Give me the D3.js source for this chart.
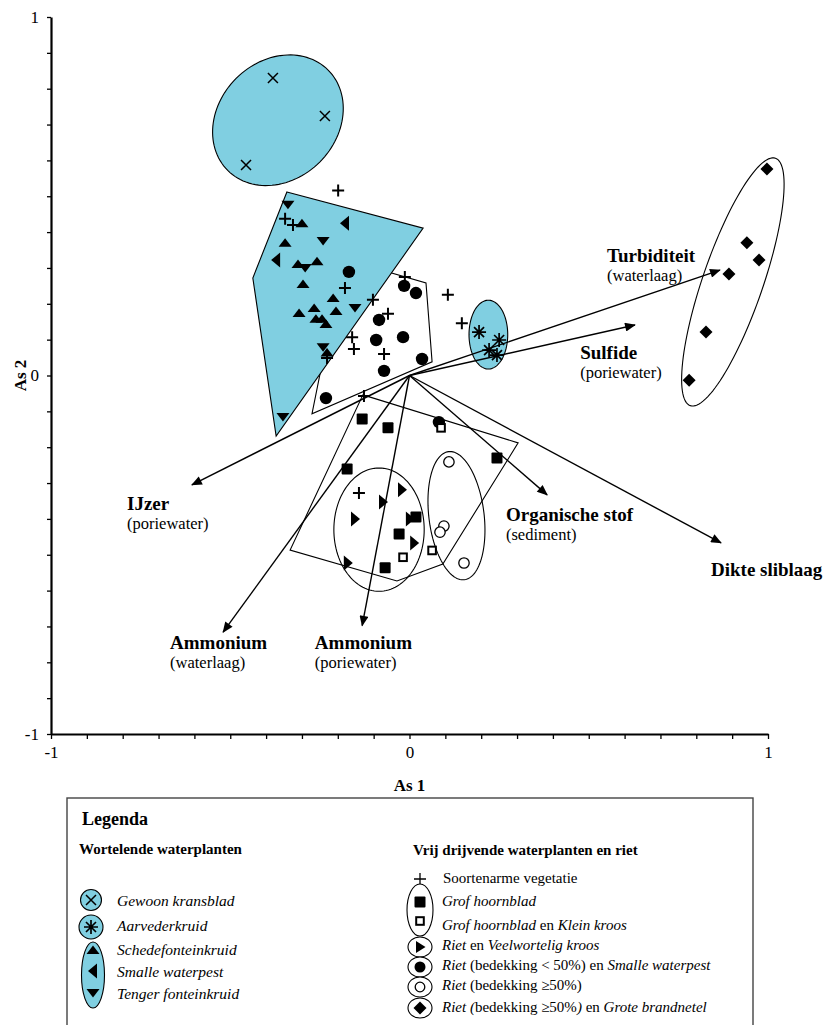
<!DOCTYPE html>
<html>
<head>
<meta charset="utf-8">
<script src="https://cdn.jsdelivr.net/npm/d3@7"></script>
<style>
  html, body { margin: 0; padding: 0; background: #fff; }
  svg { display: block; font-family: "Liberation Serif", "Times New Roman", serif; }
</style>
</head>
<body>
<svg id="chart" width="831" height="1025"></svg>
<script>
// ---- Sample scores on the first two ordination axes [As 1, As 2] ----
const gewoonKransblad = [[-0.381, 0.830], [-0.236, 0.724], [-0.456, 0.587]];
const aarvederkruid = [[0.194, 0.121], [0.250, 0.099], [0.222, 0.071], [0.244, 0.057]];
const schedefonteinkruid = [
  [-0.300, 0.425], [-0.347, 0.370], [-0.311, 0.311], [-0.258, 0.319], [-0.297, 0.255],
  [-0.213, 0.216], [-0.266, 0.188], [-0.205, 0.180], [-0.308, 0.174], [-0.261, 0.158],
  [-0.244, 0.158], [-0.233, 0.144], [-0.230, 0.064]
];
const smalleWaterpest = [[-0.180, 0.425], [-0.372, 0.322]];
const tengerFonteinkruid = [
  [-0.339, 0.476], [-0.241, 0.375], [-0.291, 0.300], [-0.152, 0.188], [-0.241, 0.079], [-0.353, -0.116]
];
const soortenarm = [
  [-0.199, 0.516], [-0.347, 0.437], [-0.325, 0.420], [-0.180, 0.244], [-0.102, 0.211],
  [-0.013, 0.275], [0.107, 0.225], [0.146, 0.146], [-0.060, 0.172], [-0.160, 0.107],
  [-0.155, 0.074], [-0.071, 0.060], [-0.230, 0.049], [-0.127, -0.057], [-0.141, -0.328]
];
const rietSmalleWaterpest = [
  [-0.169, 0.289], [-0.015, 0.250], [0.018, 0.230], [-0.085, 0.155], [-0.093, 0.099],
  [-0.018, 0.107], [0.035, 0.046], [-0.071, 0.013], [-0.233, -0.063], [0.082, -0.130]
];
const grofHoornblad = [
  [-0.132, -0.121], [-0.060, -0.146], [0.244, -0.230], [-0.174, -0.261],
  [0.018, -0.395], [-0.029, -0.442], [-0.068, -0.536]
];
const grofHoornbladKleinKroos = [[0.088, -0.146], [-0.018, -0.507], [0.063, -0.488]];
const rietVeelwortelig = [
  [-0.021, -0.319], [-0.074, -0.353], [-0.152, -0.400], [0.001, -0.400], [0.013, -0.467], [-0.172, -0.523]
];
const rietDicht = [[0.110, -0.241], [0.096, -0.420], [0.085, -0.437], [0.152, -0.523]];
const rietBrandnetel = [
  [0.997, 0.576], [0.941, 0.370], [0.975, 0.322], [0.891, 0.283], [0.827, 0.121], [0.780, -0.013]
];

// ---- Environmental variables (arrow tips) ----
const variableNames = ["Turbiditeit", "Sulfide", "IJzer", "Ammonium", "Ammonium", "Organische stof", "Dikte sliblaag"];
const variableSources = ["(waterlaag)", "(poriewater)", "(poriewater)", "(waterlaag)", "(poriewater)", "(sediment)", ""];
const variableTips = [
  [0.866, 0.294], [0.629, 0.141], [-0.607, -0.305], [-0.520, -0.716],
  [-0.132, -0.698], [0.384, -0.333], [0.869, -0.467]
];

// ---- Group outlines (hulls and ellipses) ----
const hullRooted = [[-0.342, 0.512], [0.038, 0.411], [-0.372, -0.169], [-0.437, 0.272]];
const hullRietSmalle = [[-0.185, 0.325], [0.046, 0.258], [0.063, 0.038], [-0.272, -0.107]];
const hullHoornblad = [[-0.130, -0.054], [0.303, -0.188], [0.093, -0.526], [-0.035, -0.573], [-0.333, -0.487]];
// ellipses: centre x, centre y, semi-axis a, semi-axis b, angle of a (degrees)
const ellipseKransblad = [-0.367, 0.712, 0.198, 0.165, 45];
const ellipseAarveder = [0.220, 0.114, 0.054, 0.096, 0];
const ellipseBrandnetel = [0.902, 0.261, 0.365, 0.084, 71];
const ellipseVeelwortelig = [-0.085, -0.430, 0.126, 0.172, 0];
const ellipseRietDicht = [0.131, -0.391, 0.180, 0.077, 97];

// ---- Axis ticks ----
const axisTicks = d3.range(-10, 11).map(i => i / 10);
const axisTickLabels = ["-1", "0", "1"];

const BLUE = "#80cfe1";
const svg = d3.select("#chart");

const x = d3.scaleLinear().domain([-1, 1]).range([51, 768]);
const y = d3.scaleLinear().domain([-1, 1]).range([734, 17]);

// ---------------- Axes ----------------
const labelFor = v => {
  const r = Math.round(v);
  return Math.abs(v - r) < 1e-9 ? axisTickLabels[r + 1] : "";
};
const xAxis = svg.append("g")
  .attr("transform", `translate(0,${y(-1)})`)
  .call(d3.axisBottom(x).tickValues(axisTicks).tickFormat(labelFor).tickSize(5).tickSizeOuter(0).tickPadding(7));
const yAxis = svg.append("g")
  .attr("transform", `translate(${x(-1)},0)`)
  .call(d3.axisLeft(y).tickValues(axisTicks).tickFormat(labelFor).tickSize(4).tickSizeOuter(0).tickPadding(8));
[xAxis, yAxis].forEach(a => {
  a.attr("font-family", null);
  a.select(".domain").attr("stroke", "#000").attr("stroke-width", 2.2);
  a.selectAll(".tick line").attr("stroke", "#000").attr("stroke-width", 1.3);
  a.selectAll(".tick text").attr("font-size", 17).attr("fill", "#000");
});

svg.append("text").attr("x", x(0)).attr("y", 791).attr("text-anchor", "middle")
  .attr("font-weight", "bold").attr("font-size", 17).text("As 1");
svg.append("text").attr("transform", `translate(26,${y(0)}) rotate(-90)`).attr("text-anchor", "middle")
  .attr("font-weight", "bold").attr("font-size", 17).text("As 2");

// ---------------- Outlines ----------------
const line = d3.line().x(d => x(d[0])).y(d => y(d[1])).curve(d3.curveLinearClosed);
function ellipsePoints(e) {
  const [cx, cy, a, b, ang] = e;
  const t = ang * Math.PI / 180;
  return d3.range(0, 120).map(i => {
    const u = i / 120 * 2 * Math.PI;
    const px = a * Math.cos(u), py = b * Math.sin(u);
    return [cx + px * Math.cos(t) - py * Math.sin(t), cy + px * Math.sin(t) + py * Math.cos(t)];
  });
}
const outlines = svg.append("g").attr("stroke", "#000").attr("stroke-width", 1.1);
outlines.append("path").attr("d", line(hullRietSmalle)).attr("fill", "#fff");
outlines.append("path").attr("d", line(hullRooted)).attr("fill", BLUE);
outlines.append("path").attr("d", line(ellipsePoints(ellipseKransblad))).attr("fill", BLUE);
outlines.append("path").attr("d", line(ellipsePoints(ellipseAarveder))).attr("fill", BLUE);
outlines.append("path").attr("d", line(hullHoornblad)).attr("fill", "none");
outlines.append("path").attr("d", line(ellipsePoints(ellipseBrandnetel))).attr("fill", "none");
outlines.append("path").attr("d", line(ellipsePoints(ellipseVeelwortelig))).attr("fill", "none");
outlines.append("path").attr("d", line(ellipsePoints(ellipseRietDicht))).attr("fill", "none");

// ---------------- Arrows ----------------
svg.append("defs").append("marker")
  .attr("id", "head").attr("viewBox", "0 0 12 10").attr("refX", 11).attr("refY", 5)
  .attr("markerWidth", 12).attr("markerHeight", 9).attr("markerUnits", "userSpaceOnUse")
  .attr("orient", "auto")
  .append("path").attr("d", "M0,0L12,5L0,10Z").attr("fill", "#000");

svg.append("g").selectAll("line").data(variableTips).join("line")
  .attr("x1", x(0)).attr("y1", y(0))
  .attr("x2", d => x(d[0])).attr("y2", d => y(d[1]))
  .attr("stroke", "#000").attr("stroke-width", 1.4).attr("marker-end", "url(#head)");

// label anchors for the arrows (start of the bold name, in axis units)
const arrowLabelAnchors = [
  [0.551, 0.316], [0.476, 0.045], [-0.788, -0.376], [-0.668, -0.764],
  [-0.264, -0.764], [0.269, -0.407], [0.841, -0.559]
];
const lbl = svg.append("g");
variableNames.forEach((name, i) => {
  const [ax, ay] = arrowLabelAnchors[i];
  lbl.append("text").attr("x", x(ax)).attr("y", y(ay))
    .attr("font-weight", "bold").attr("font-size", 19).text(name);
  if (variableSources[i]) {
    lbl.append("text").attr("x", x(ax)).attr("y", y(ay) + 19)
      .attr("font-size", 16.5).text(variableSources[i]);
  }
});

// ---------------- Markers ----------------
function drawMarker(g, type) {
  const k = "#000";
  switch (type) {
    case "x":
      g.append("path").attr("d", "M-5,-5L5,5M-5,5L5,-5").attr("stroke", k).attr("stroke-width", 1.5).attr("fill", "none"); break;
    case "star":
      g.append("path").attr("d", "M0,-7V7M-7,0H7M-5,-5L5,5M-5,5L5,-5").attr("stroke", k).attr("stroke-width", 1.7).attr("fill", "none"); break;
    case "plus":
      g.append("path").attr("d", "M-6,0H6M0,-6V6").attr("stroke", k).attr("stroke-width", 2).attr("fill", "none"); break;
    case "up":
      g.append("path").attr("d", "M0,-4.5L6.5,4L-6.5,4Z").attr("fill", k); break;
    case "down":
      g.append("path").attr("d", "M0,4.5L6.5,-4L-6.5,-4Z").attr("fill", k); break;
    case "left":
      g.append("path").attr("d", "M-5,0L4,-7.5L4,7.5Z").attr("fill", k); break;
    case "right":
      g.append("path").attr("d", "M5,0L-4,-7.5L-4,7.5Z").attr("fill", k); break;
    case "dot":
      g.append("circle").attr("r", 6.2).attr("fill", k); break;
    case "ring":
      g.append("circle").attr("r", 5.2).attr("fill", "#fff").attr("stroke", k).attr("stroke-width", 1.3); break;
    case "square":
      g.append("rect").attr("x", -5.5).attr("y", -5.5).attr("width", 11).attr("height", 11).attr("rx", 1).attr("fill", k); break;
    case "opensquare":
      g.append("rect").attr("x", -3.8).attr("y", -3.8).attr("width", 7.6).attr("height", 7.6).attr("fill", "#fff").attr("stroke", k).attr("stroke-width", 2); break;
    case "diamond":
      g.append("path").attr("d", "M0,-6.5L6.5,0L0,6.5L-6.5,0Z").attr("fill", k); break;
  }
}

const groups = [
  [gewoonKransblad, "x"], [aarvederkruid, "star"],
  [rietSmalleWaterpest, "dot"], [soortenarm, "plus"],
  [schedefonteinkruid, "up"], [smalleWaterpest, "left"], [tengerFonteinkruid, "down"],
  [grofHoornblad, "square"], [grofHoornbladKleinKroos, "opensquare"],
  [rietVeelwortelig, "right"], [rietDicht, "ring"], [rietBrandnetel, "diamond"]
];
const pts = svg.append("g");
groups.forEach(([data, type]) => {
  data.forEach(d => {
    drawMarker(pts.append("g").attr("transform", `translate(${x(d[0])},${y(d[1])})`), type);
  });
});

// ---------------- Legend ----------------
const lg = svg.append("g");
lg.append("rect").attr("x", 67).attr("y", 798).attr("width", 686).attr("height", 260)
  .attr("fill", "none").attr("stroke", "#444").attr("stroke-width", 1.4);
lg.append("text").attr("x", 82).attr("y", 825).attr("font-weight", "bold").attr("font-size", 18).text("Legenda");
lg.append("text").attr("x", 79).attr("y", 854).attr("font-weight", "bold").attr("font-size", 15).text("Wortelende waterplanten");
lg.append("text").attr("x", 413).attr("y", 855).attr("font-weight", "bold").attr("font-size", 15).text("Vrij drijvende waterplanten en riet");

function at(px, py) { return lg.append("g").attr("transform", `translate(${px},${py})`); }
const stroke1 = s => s.attr("stroke", "#000").attr("stroke-width", 1.1);

// rooted species
stroke1(lg.append("circle").attr("cx", 91).attr("cy", 900).attr("r", 10.5).attr("fill", BLUE));
drawMarker(at(91, 900), "x");
stroke1(lg.append("circle").attr("cx", 91).attr("cy", 927).attr("r", 12).attr("fill", BLUE));
drawMarker(at(91, 927), "star");
stroke1(lg.append("ellipse").attr("cx", 93).attr("cy", 975).attr("rx", 11.5).attr("ry", 33).attr("fill", BLUE));
drawMarker(at(93, 950), "up");
drawMarker(at(93, 971), "left");
drawMarker(at(93, 993), "down");

const leftItems = [["Gewoon kransblad", 906], ["Aarvederkruid", 931], ["Schedefonteinkruid", 955], ["Smalle waterpest", 977], ["Tenger fonteinkruid", 999]];
leftItems.forEach(([t, yy]) => {
  lg.append("text").attr("x", 117).attr("y", yy).attr("font-style", "italic").attr("font-size", 15.5).text(t);
});

// free-floating species and reed
const plusG = at(420, 879);
plusG.append("path").attr("d", "M-6,0H6M0,-6V6").attr("stroke", "#000").attr("stroke-width", 1.3);
stroke1(lg.append("ellipse").attr("cx", 420).attr("cy", 910).attr("rx", 13).attr("ry", 26).attr("fill", "#fff"));
drawMarker(at(420, 902), "square");
drawMarker(at(420, 921), "opensquare");
[[947, "right"], [967, "dot"], [987, "ring"], [1008, "diamond"]].forEach(([yy, type]) => {
  stroke1(lg.append("ellipse").attr("cx", 420).attr("cy", yy).attr("rx", 12).attr("ry", 10).attr("fill", "#fff"));
  const g = at(420, yy);
  if (type === "dot") g.append("circle").attr("r", 5.5).attr("fill", "#000");
  else if (type === "ring") g.append("circle").attr("r", 4.8).attr("fill", "#fff").attr("stroke", "#000").attr("stroke-width", 1.3);
  else if (type === "right") g.append("path").attr("d", "M5.5,0L-4,-6L-4,6Z").attr("fill", "#000");
  else drawMarker(g, type);
});

const rightItems = [
  [883, [["Soortenarme vegetatie", false]]],
  [906, [["Grof hoornblad", true]]],
  [930, [["Grof hoornblad", true], [" en ", false], ["Klein kroos", true]]],
  [950, [["Riet", true], [" en ", false], ["Veelwortelig kroos", true]]],
  [970, [["Riet", true], [" (bedekking < 50%) en ", false], ["Smalle waterpest", true]]],
  [990, [["Riet", true], [" (bedekking ≥50%)", false]]],
  [1012, [["Riet (", true], ["bedekking ≥50%", false], [")", true], [" en ", false], ["Grote brandnetel", true]]]
];
rightItems.forEach(([yy, parts], i) => {
  const t = lg.append("text").attr("x", i === 0 ? 443 : 442).attr("y", yy).attr("font-size", 15);
  parts.forEach(([s, it]) => {
    t.append("tspan").attr("font-style", it ? "italic" : "normal").text(s);
  });
});
</script>
</body>
</html>
